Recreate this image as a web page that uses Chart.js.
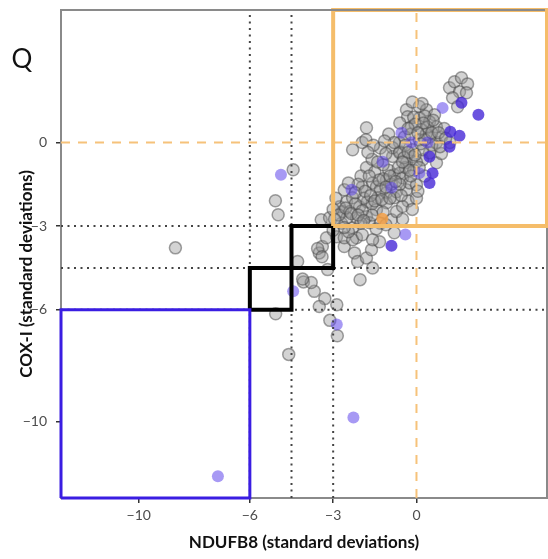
<!DOCTYPE html>
<html>
<head>
<meta charset="utf-8">
<script src="https://cdn.jsdelivr.net/npm/chart.js@4"></script>
<style>
  html, body { margin: 0; padding: 0; background: #fff; }
  #wrap { width: 548px; height: 559px; }
</style>
</head>
<body>
<div id="wrap"><canvas id="chart" width="548" height="559"></canvas></div>
<script>
// axis limits and ticks (standard deviations)
var xMin = -12.8, xMax = 4.7;
var yMin = -12.75, yMax = 4.75;
var tickValues = [-10, -6, -3, 0];
var cutoffs = [-6, -4.5, -3];
var meanLine = 0;

// fibres: [NDUFB8, COX-I]
var grayFibres = [
  [-8.68,-3.78],[-5.08,-2.09],[-4.98,-2.59],[-4.44,-0.98],
  [-4.6,-7.6],[-5.07,-6.14],[-3.12,-6.38],[-2.85,-6.93],
  [-3.3,-5.6],[-2.87,-5.82],[-3.5,-5.88],[-3.68,-5.34],[-4.07,-5.0],[-3.79,-5.02],[-4.1,-4.9],
  [-2.03,-4.92],[-3.2,-4.56],[-4.28,-4.27],[-3.5,-3.96],[-3.39,-3.73],[-3.56,-3.8],[-3.4,-4.1],
  [-3.24,-3.42],[-3.43,-2.77],[-2.88,-3.38],[-2.6,-3.73],[-2.16,-3.42],[-2.23,-3.96],[-2.12,-4.27],
  [-1.8,-4.14],[-1.62,-3.85],[-1.58,-4.5],[-1.33,-3.56],[-2.6,-3.42],[-2.3,-3.49],[-1.95,-3.31],
  [-1.58,-3.49],[-0.8,-3.24],[-2.3,-3.06],
  [-3.13,-2.7],[-2.77,-2.31],[-2.66,-2.48],[-2.52,-2.13],[-2.4,-2.48],[-2.3,-1.98],[-2.16,-2.7],
  [-2.05,-2.31],[-1.95,-1.59],[-1.8,-2.66],[-1.77,-2.13],[-1.69,-2.88],[-1.58,-1.45],[-1.44,-2.41],
  [-1.44,-1.59],[-1.4,-1.98],[-1.08,-1.34],[-1.08,-1.8],[-1.08,-2.16],[-0.9,-2.77],[-0.8,-1.98],
  [-0.8,-1.16],[-0.72,-1.77],[-0.72,-2.48],[-0.6,-1.1],[-0.5,-1.27],[-0.36,-1.7],[-0.25,-1.45],
  [0,-1.52],[-1.8,-0.9],[-1.5,-1.05],[-2.3,-0.26],[-1.95,0],[-1.8,0.53],[-1.82,0.1],
  [-0.86,-0.5],[-0.6,-0.33],[-0.36,-0.73],[-0.14,-0.26],[0.22,-0.62],[0.47,-0.37],[0.72,-0.73],
  [-0.61,0],[-0.86,-0.19],[-0.61,-0.37],[-0.14,-0.51],[0.22,-0.26],[0.72,0],[0.9,0.2],
  [0.47,0.2],[-0.43,0.2],[-0.36,1.17],[0.1,1.29],[-0.32,0.92],[0.36,1.17],[0.65,0.99],
  [0.11,0.88],[0.47,0.74],[0.72,0.56],[-0.18,0.56],[0.18,0.46],[-0.15,1.45],[0.2,1.4],
  [1.19,1.96],[1.37,2.18],[1.62,2.32],[1.84,2.1],[1.55,1.82],[1.3,1.6],[1.48,1.28],[1.8,1.78],
  [-2.0,-1.2],[-1.6,-0.6],[-1.3,-0.2],[-1.0,0.3],[-2.6,-1.7],[-2.9,-2.0],[-3.0,-2.4],
  [-2.7,-2.9],[-2.45,-3.2],[-2.0,-2.9],[-1.2,-2.5],[-1.0,-1.0],[-0.4,-0.9],[-0.1,-1.0],
  [0.3,-1.2],[0.1,0.1],[0.35,0.3],[1.0,0.5],[1.2,0.0],[-0.3,-2.1],[-0.5,-2.3],[0.0,-2.0],
  [-1.3,-2.9],[-1.2,-1.3],[-1.6,-2.2],[-2.1,-1.5],[-0.9,-1.5],[-0.2,0.3],[0.55,-0.1],
  [-1.55,-0.1],[-0.6,0.7],[-0.1,0.9],[0.3,0.95],[-0.4,-0.1],[0.0,-0.7],[-1.2,-0.8],
  [-1.9,-2.0],[-2.2,-2.2],[-1.3,-1.7],[-0.6,-1.5],[-0.2,-1.2],[0.9,-0.4],[-1.6,-2.6],
  [-2.5,-2.7],[-0.8,0.0],
  [-2.8,-2.6],[-2.55,-2.35],[-2.35,-2.55],[-2.2,-1.8],[-1.95,-2.45],[-1.85,-1.75],[-1.65,-1.9],
  [-1.5,-2.1],[-1.35,-1.35],[-1.25,-2.05],[-1.1,-1.6],[-0.95,-1.2],[-0.95,-2.0],[-0.75,-1.4],
  [-0.65,-0.9],[-0.55,-1.9],[-0.45,-0.55],[-0.3,-0.35],[-0.25,-1.0],[-0.05,-0.45],[0.1,-0.9],
  [0.15,-0.05],[0.3,0.1],[0.4,0.55],[0.55,0.35],[0.6,0.8],[0.25,0.7],[-0.05,0.65],[-0.3,0.5],
  [-0.5,-0.7],[-1.1,-0.4],[-1.4,-0.7],[-1.7,-1.2],[-2.1,-2.6],[-2.6,-3.05],[-3.0,-3.15],
  [-2.95,-2.75],[-1.9,-2.8],[-1.45,-3.1],[-1.1,-2.95],[-0.5,-2.75],[0.05,-1.75],[-0.15,-2.4],
  [0.8,0.35],[1.05,0.15],[0.85,-0.15],[-2.45,-1.45],[-1.75,-0.35],[-1.15,0.05],[0.05,0.35]
];
var blueFibresDark = [
  [2.23,0.99],[1.62,1.42],[1.55,0.24],[1.19,-0.15],[1.22,0.38],[0.58,-1.1],[0.47,-1.45],
  [0.47,-0.51],[-0.9,-3.7]
];
var blueFibresLight = [
  [0.94,1.24],[-0.54,0.35],[-0.18,0],[0.4,0.0],[-1.22,-0.69],[-2.34,-1.7],[-0.9,-1.62],
  [0.1,-1.1],[-0.4,-3.3],[-4.88,-1.16],[-4.44,-5.34],[-2.87,-6.53],[-2.27,-9.86],[-7.15,-11.97]
];
var orangeFibres = [[-1.23,-2.74]];

function pts(list) {
  return list.map(function (p) { return { x: p[0], y: p[1] }; });
}

function segment(x0, y0, x1, y1, color, width, dash, order) {
  return {
    data: [{ x: x0, y: y0 }, { x: x1, y: y1 }],
    showLine: true, pointRadius: 0, borderColor: color, borderWidth: width,
    borderDash: dash, tension: 0, order: order
  };
}

function box(x0, y0, x1, y1, color, width) {
  return {
    data: [{ x: x0, y: y0 }, { x: x1, y: y0 }, { x: x1, y: y1 }, { x: x0, y: y1 }, { x: x0, y: y0 }],
    showLine: true, pointRadius: 0, borderColor: color, borderWidth: width,
    borderJoinStyle: 'miter', tension: 0, clip: false, order: 0
  };
}

var datasets = [];

// dotted cut-off lines
cutoffs.forEach(function (c) {
  datasets.push(segment(c, yMin, c, yMax, '#444444', 2, [2, 4.5], 2));
  datasets.push(segment(xMin, c, xMax, c, '#444444', 2, [2, 4.5], 2));
});
// dashed mean lines
datasets.push(segment(meanLine, yMin, meanLine, yMax, '#f6c27a', 2, [9, 8], 1));
datasets.push(segment(xMin, meanLine, xMax, meanLine, '#f6c27a', 2, [9, 8], 1));

// classification boxes
datasets.push(box(cutoffs[2], cutoffs[2], xMax, yMax, '#f5bd6a', 4));
datasets.push(box(xMin, yMin, cutoffs[0], cutoffs[0], '#3a1de2', 3));
datasets.push(box(cutoffs[0], cutoffs[0], cutoffs[1], cutoffs[1], '#000000', 4));
datasets.push(box(cutoffs[1], cutoffs[1], cutoffs[2], cutoffs[2], '#000000', 4));

datasets.push({
  data: pts(grayFibres), pointRadius: 6, pointBorderWidth: 1.5,
  backgroundColor: 'rgba(150,150,150,0.42)', borderColor: 'rgba(70,70,70,0.5)', order: 6
});
datasets.push({
  data: pts(blueFibresLight), pointRadius: 6, pointBorderWidth: 0,
  backgroundColor: 'rgba(95,70,235,0.55)', borderColor: 'rgba(0,0,0,0)', order: 5
});
datasets.push({
  data: pts(blueFibresDark), pointRadius: 6, pointBorderWidth: 0,
  backgroundColor: 'rgba(70,40,215,0.8)', borderColor: 'rgba(0,0,0,0)', order: 4
});
datasets.push({
  data: pts(orangeFibres), pointRadius: 6, pointBorderWidth: 0,
  backgroundColor: 'rgba(245,160,70,0.85)', borderColor: 'rgba(0,0,0,0)', order: 3
});

function minusLabel(v) {
  return v < 0 ? '\u2212' + Math.abs(v) : String(v);
}

// panel frame, panel letter and rotated y title
var decor = {
  id: 'decor',
  beforeDatasetsDraw: function (chart) {
    var a = chart.chartArea, ctx = chart.ctx;
    ctx.save();
    ctx.strokeStyle = '#8a8a8a';
    ctx.lineWidth = 2;
    ctx.strokeRect(a.left, a.top, a.right - a.left, a.bottom - a.top);
    ctx.restore();
  },
  afterDatasetsDraw: function (chart) {
    // top edge of the frame sits over the orange box
    var a = chart.chartArea, ctx = chart.ctx;
    ctx.save();
    ctx.strokeStyle = '#8a8a8a';
    ctx.lineWidth = 2;
    ctx.beginPath();
    ctx.moveTo(a.left - 1, a.top);
    ctx.lineTo(a.right - 2, a.top);
    ctx.stroke();
    ctx.restore();
  },
  afterDraw: function (chart) {
    var ctx = chart.ctx, a = chart.chartArea;
    ctx.save();
    ctx.fillStyle = '#111';
    ctx.font = '26px Lato';
    ctx.textAlign = 'center';
    ctx.textBaseline = 'middle';
    ctx.fillText('Q', 22, 60);
    ctx.translate(27, (a.top + a.bottom) / 2 + 20);
    ctx.rotate(-Math.PI / 2);
    ctx.font = 'bold 17px Lato';
    ctx.fillText('COX-I (standard deviations)', 0, 0);
    ctx.restore();
  }
};

new Chart(document.getElementById('chart'), {
  type: 'scatter',
  data: { datasets: datasets },
  options: {
    responsive: false,
    animation: false,
    layout: { autoPadding: false, padding: { top: 10, right: 1, left: 0, bottom: 0 } },
    plugins: { legend: { display: false }, tooltip: { enabled: false } },
    scales: {
      x: {
        type: 'linear', min: xMin, max: xMax,
        afterBuildTicks: function (s) { s.ticks = tickValues.map(function (v) { return { value: v }; }); },
        afterFit: function (s) { s.height = 61; s.paddingLeft = 0; s.paddingRight = 0; },
        grid: { drawOnChartArea: false, drawTicks: true, tickLength: 5, color: '#333', lineWidth: 1.5 },
        border: { display: false },
        ticks: { callback: minusLabel, color: '#4d4d4d', font: { family: 'Lato', size: 14 }, padding: 4, maxRotation: 0 },
        title: { display: true, text: 'NDUFB8 (standard deviations)', color: '#111',
                 font: { family: 'Lato', size: 17, weight: 'bold' }, padding: { top: 0, bottom: 6 } }
      },
      y: {
        type: 'linear', min: yMin, max: yMax,
        afterBuildTicks: function (s) { s.ticks = tickValues.map(function (v) { return { value: v }; }); },
        afterFit: function (s) { s.width = 61; s.paddingTop = 0; s.paddingBottom = 0; },
        grid: { drawOnChartArea: false, drawTicks: true, tickLength: 5, color: '#333', lineWidth: 1.5 },
        border: { display: false },
        ticks: { callback: minusLabel, color: '#4d4d4d', font: { family: 'Lato', size: 14 }, padding: 9 }
      }
    }
  },
  plugins: [decor]
});
</script>
</body>
</html>
